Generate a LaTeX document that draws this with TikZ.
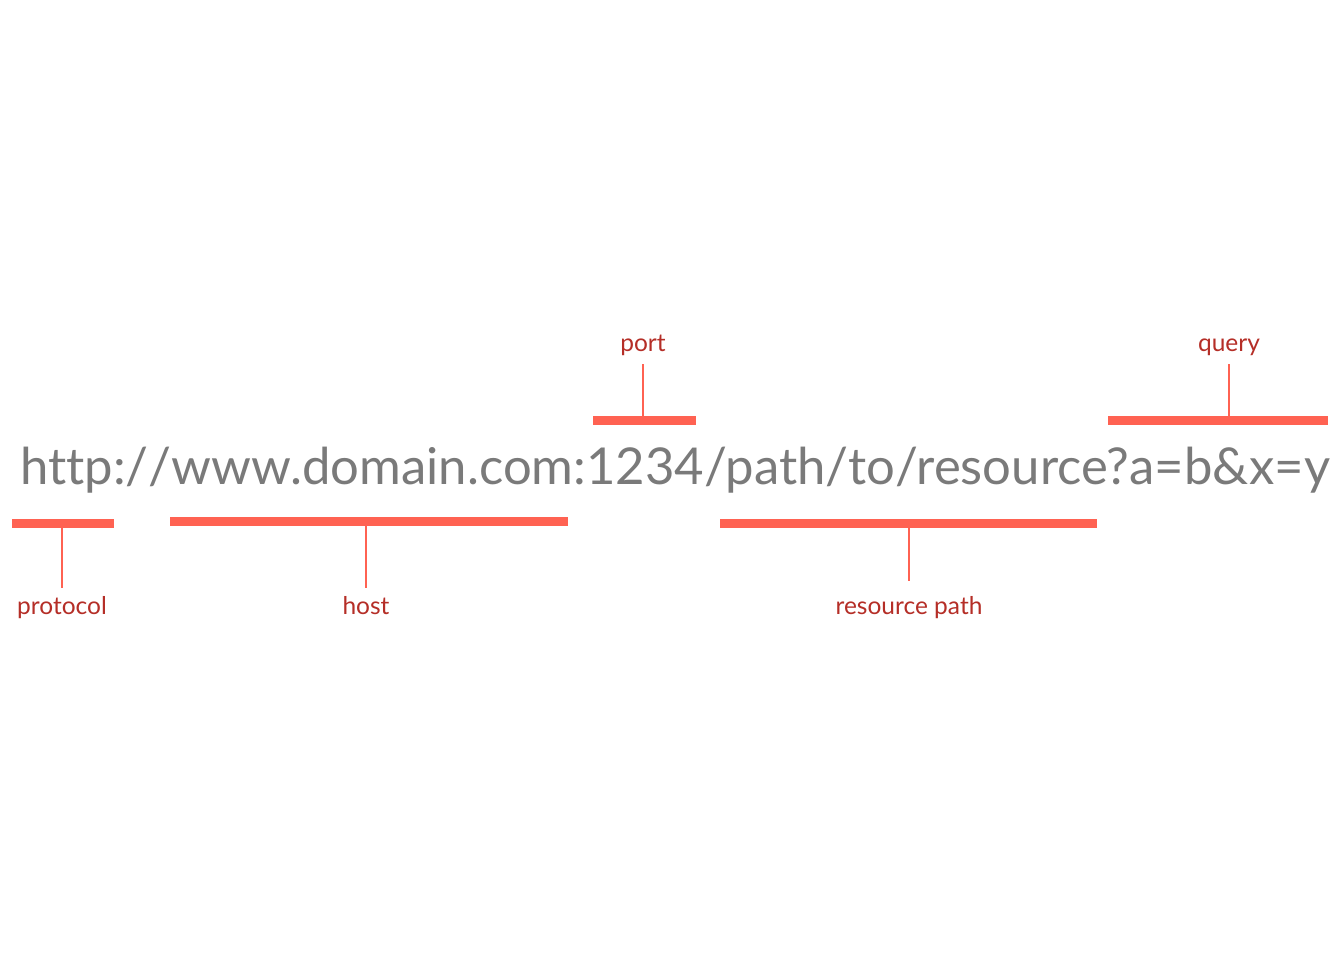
\documentclass[tikz,border=0pt]{standalone}
\usepackage{fontspec}
\setmainfont{Lato}[Ligatures={NoCommon,NoRequired}]
\definecolor{urlgray}{HTML}{7A7A7A}
\definecolor{barred}{HTML}{FF6252}
\definecolor{labred}{HTML}{B52E27}
\begin{document}
\begin{tikzpicture}[x=1pt,y=-1pt,
  bar/.style={fill=barred,draw=none,inner sep=0pt,minimum height=9pt},
  conn/.style={draw=barred,line width=1.3pt},
  lab/.style={text=labred,font=\fontsize{24.5}{28}\selectfont,inner sep=0pt,anchor=base}]
\useasboundingbox[fill=white] (0,0) rectangle (1344,960);
\node[anchor=base west,inner sep=0pt,text=urlgray] (url) at (20,484)
  {\resizebox{1310pt}{!}{\fontsize{56}{60}\selectfont http:/\kern0pt/www.domain.com:1234/path/to/resource?a=b\&x=y}};
% bars
\node[bar,minimum width=102pt] (pbar) at (63,523) {};
\node[bar,minimum width=398pt] (hbar) at (369,521.5) {};
\node[bar,minimum width=103pt] (obar) at (644.5,420.5) {};
\node[bar,minimum width=377pt] (rbar) at (908.5,523.5) {};
\node[bar,minimum width=220pt] (qbar) at (1218,420.5) {};
% labels
\node[lab] (plab) at (62,614) {protocol};
\node[lab] (hlab) at (366,614) {host};
\node[lab] (olab) at (643,351) {port};
\node[lab] (rlab) at (909,614) {resource path};
\node[lab] (qlab) at (1229,351) {query};
% connector ends
\coordinate (pend) at (62,588);
\coordinate (hend) at (366,588);
\coordinate (oend) at (643,364);
\coordinate (rend) at (909,581);
\coordinate (qend) at (1229,364);
\draw[conn] (pbar.south -| pend) -- (pend);
\draw[conn] (hbar.south -| hend) -- (hend);
\draw[conn] (obar.north -| oend) -- (oend);
\draw[conn] (rbar.south -| rend) -- (rend);
\draw[conn] (qbar.north -| qend) -- (qend);
\end{tikzpicture}
\end{document}
